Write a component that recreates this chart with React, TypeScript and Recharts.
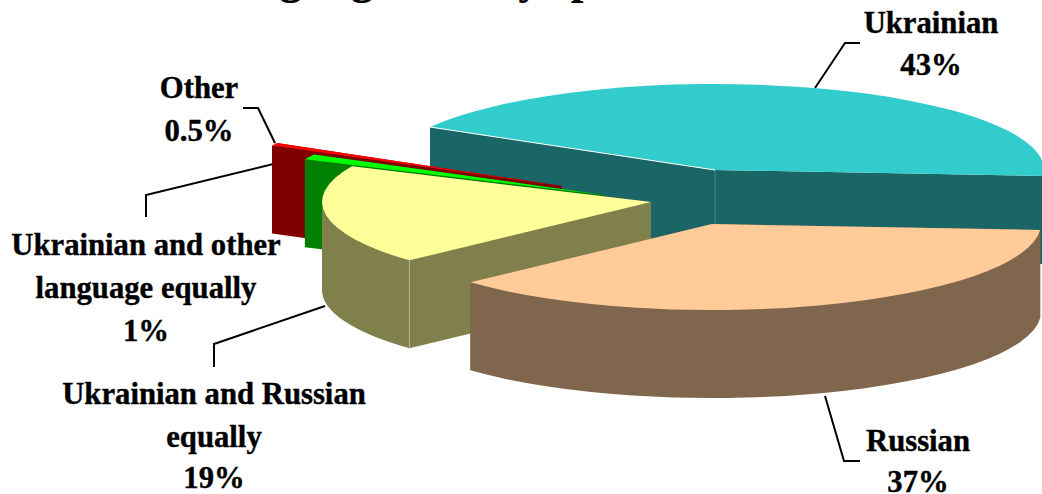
import { PieChart, Pie } from 'recharts';

const categories = ['Ukrainian', 'Other', 'Ukrainian and other language equally', 'Ukrainian and Russian equally', 'Russian'];
const shares = [43, 0.5, 1, 18.8, 37.2];
const shareLabels = ['43%', '0.5%', '1%', '19%', '37%'];

const topColors = ['#33CCCC', '#FF0000', '#00FF00', '#FFFF99', '#FFCC99'];
const sideColors = ['#1A6666', '#800000', '#008000', '#80804D', '#80664D'];
// how far each slice is pulled out of the pie
const pullX = [32, -121, -79, -32, 29];
const pullY = [-27, -11, -2, 5, 27];

const FONT = '"Liberation Serif", "Times New Roman", serif';
const RX = 329;
const RY = 86;
const DEPTH = 88;

const data = categories.map((name, i) => ({ name, value: shares[i] }));

const rad = (a: number) => (a * Math.PI) / 180;

// squashed, extruded wedge, angles come from the Pie
function Wedge(props: any) {
  const i = categories.indexOf(props.name);
  const cx = props.cx + pullX[i];
  const cy = props.cy + pullY[i];
  const a0 = props.startAngle;
  const a1 = props.endAngle;
  const rx = props.outerRadius;
  const ry = (rx * RY) / RX;
  const px = (a: number) => cx + rx * Math.cos(rad(a));
  const py = (a: number) => cy - ry * Math.sin(rad(a));

  const face = (a: number) =>
    `M${cx},${cy}L${px(a)},${py(a)}L${px(a)},${py(a) + DEPTH}L${cx},${cy + DEPTH}Z`;

  // only the part of the rim that faces the viewer gets a wall
  const walls: string[] = [];
  [[-180, 0], [180, 360]].forEach(([lo, hi]) => {
    const s = Math.max(a0, lo);
    const e = Math.min(a1, hi);
    if (e > s) {
      walls.push(
        `M${px(s)},${py(s)}A${rx},${ry} 0 0 0 ${px(e)},${py(e)}` +
          `L${px(e)},${py(e) + DEPTH}A${rx},${ry} 0 0 1 ${px(s)},${py(s) + DEPTH}Z`
      );
    }
  });

  const large = a1 - a0 > 180 ? 1 : 0;
  const top = `M${cx},${cy}L${px(a0)},${py(a0)}A${rx},${ry} 0 ${large} 0 ${px(a1)},${py(a1)}Z`;

  return (
    <g>
      <path d={face(a0)} fill={sideColors[i]} />
      <path d={face(a1)} fill={sideColors[i]} />
      {walls.map((d) => (
        <path key={d} d={d} fill={sideColors[i]} />
      ))}
      {i === 0 && <line x1={cx} y1={cy} x2={cx} y2={cy + DEPTH} stroke="#4D8585" strokeWidth={1} />}
      {i === 3 && (
        <line x1={px(a1)} y1={py(a1)} x2={px(a1)} y2={py(a1) + DEPTH} stroke="#B3B38F" strokeWidth={1} />
      )}
      <path d={top} fill={topColors[i]} />
      {i === 0 && <line x1={px(a1)} y1={py(a1)} x2={cx} y2={cy} stroke="#FFFFFF" strokeWidth={1} />}
    </g>
  );
}

const Label = ({ x, y, lines }: { x: number; y: number[]; lines: string[] }) => (
  <text
    textAnchor="middle"
    fontFamily={FONT}
    fontWeight="bold"
    fontSize={30.7}
    fill="#000000"
    stroke="#000000"
    strokeWidth={0.4}
  >
    {lines.map((t, k) => (
      <tspan key={t} x={x} y={y[k]}>
        {t}
      </tspan>
    ))}
  </text>
);

export default function App() {
  return (
    <div style={{ position: 'absolute', left: 0, top: 0, width: 1042, height: 494, background: '#fff' }}>
      <PieChart width={1042} height={494} margin={{ top: 0, right: 0, bottom: 0, left: 0 }}>
        <text x={200} y={-7} fontFamily={FONT} fontWeight="bold" fontSize={46} fill="#000000">
          Language mainly spoken
        </text>
        <Pie
          data={data}
          dataKey="value"
          nameKey="name"
          cx={683}
          cy={197}
          outerRadius={RX}
          startAngle={-4}
          endAngle={356}
          stroke="none"
          label={false}
          labelLine={false}
          shape={Wedge}
          isAnimationActive={false}
        />
        <g fill="none" stroke="#000000" strokeWidth={2}>
          <polyline points="815,88 845,43 860,43" />
          <polyline points="275,143 258,108 243,108" />
          <polyline points="310,155 146,195 146,217" />
          <polyline points="325,306 214,344 214,367" />
          <polyline points="825,396 844,461 860,461" />
        </g>
        <Label x={931} y={[33, 75]} lines={['Ukrainian', shareLabels[0]]} />
        <Label x={199} y={[98, 141]} lines={['Other', shareLabels[1]]} />
        <Label x={146} y={[255, 298, 341]} lines={['Ukrainian and other', 'language equally', shareLabels[2]]} />
        <Label x={214} y={[404, 447, 488]} lines={['Ukrainian and Russian', 'equally', shareLabels[3]]} />
        <Label x={918} y={[451, 492]} lines={['Russian', shareLabels[4]]} />
      </PieChart>
    </div>
  );
}
